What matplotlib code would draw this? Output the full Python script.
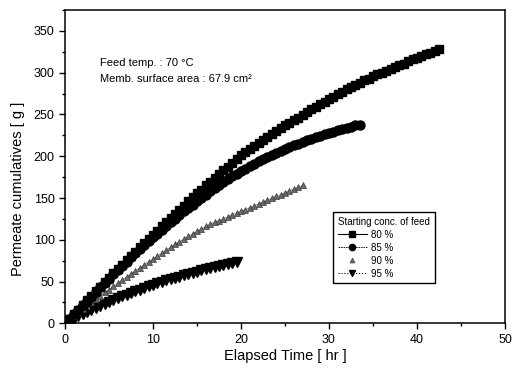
import numpy as np
import matplotlib
matplotlib.use('Agg')
import matplotlib.pyplot as plt
from matplotlib.ticker import MultipleLocator
from matplotlib.lines import Line2D

plt.rcParams['font.family'] = ['Liberation Sans', 'DejaVu Sans']

# ---- data ----
t80 = np.arange(0, 42.51, 0.5)
y80 = [0, 5.5, 11, 16.5, 22, 27.5, 33, 38.5, 44, 49, 54.5, 60, 65, 70, 75.5, 81, 86,
       91, 96, 101, 106, 111, 116, 121, 126, 131, 136, 141, 146, 151, 155.5, 160, 165,
       169.5, 174, 178.5, 183, 187.5, 192, 196.5, 201, 205, 209, 212.5, 216,
       219.5, 223, 226.5, 230, 233.5, 237, 240, 243, 246, 249.5, 253, 256,
       259, 262, 265, 268, 271, 274, 277, 280, 283, 285.5, 288, 291,
       293, 295.5, 298, 300, 302, 304.5, 307, 309, 311, 313.5, 316, 318,
       320, 322, 324, 326, 328]

t85 = np.arange(0, 33.51, 0.5)
y85 = [0, 5.5, 11, 16.5, 22, 27, 32, 37.5, 43, 48, 53.5, 59, 64, 69, 74, 79, 84,
       89, 93.5, 98, 103, 107.5, 112, 116.5, 121, 125, 129.5, 134, 138,
       142, 146, 150, 154, 158, 161.5, 165.5, 169, 172.5, 176, 179, 182,
       185, 188, 191, 194, 196.5, 199, 201.5, 204, 206.5, 209, 211, 213,
       215, 217, 219, 221, 223, 224.5, 226.5, 228, 229.5, 231, 232.5, 234,
       235.5, 237, 238]

t90 = np.arange(0, 27.01, 0.5)
y90 = [0, 4.5, 9, 13, 17, 21, 25, 29, 33, 37, 40.5, 44.5, 48, 52, 55.5, 59.5, 63,
       66.5, 70, 73.5, 77, 80.5, 84, 87.5, 91, 94.5, 97.5, 101, 104,
       107, 110, 113, 116, 118.5, 121, 123, 125, 127.5, 130, 132, 134,
       136, 138.5, 140.5, 143, 145, 147.5, 149.5, 152, 154, 156.5, 158.5, 161,
       163, 165]

t95 = np.arange(0, 19.51, 0.5)
y95 = [0, 3, 5.5, 8.5, 11, 13.5, 16, 18.5, 21, 23.5, 26, 28.5, 30.5,
       32.5, 34.5, 36.5, 38.5, 40.5, 42.5, 44.5, 46, 48, 49.5, 51.5, 53,
       54.5, 56, 57.5, 59, 60.5, 62, 63.5, 65, 66, 67.5, 69, 70,
       71, 72.5, 74]

labels = ['80 %', '85 %', '90 %', '95 %']
legend_title = 'Starting conc. of feed'
note1 = 'Feed temp. : 70 \u00b0C'
note2 = 'Memb. surface area : 67.9 cm\u00b2'

fig = plt.figure(figsize=(5.13, 3.76), dpi=100)
ax = fig.add_axes([0.1267, 0.140, 0.8577, 0.8333])

h95, = ax.plot(t95, y95, color='black', marker='v', ms=6.5, ls=':', lw=0.8, label=labels[3])
h90, = ax.plot(t90, y90, color='#6a6a6a', marker='^', ms=3.8, mec='#3a3a3a', mew=0.5,
               ls='-', lw=0.5, label=labels[2])
h85, = ax.plot(t85, y85, color='black', marker='o', ms=6.5, ls=(0, (2, 1)), lw=0.6, label=labels[1])
h80, = ax.plot(t80, y80, color='black', marker='s', ms=6.3, ls='-', lw=0.8, label=labels[0])

ax.set_xlim(0, 50)
ax.set_ylim(0, 375)
ax.xaxis.set_major_locator(MultipleLocator(10))
ax.xaxis.set_minor_locator(MultipleLocator(5))
ax.yaxis.set_major_locator(MultipleLocator(50))
ax.yaxis.set_minor_locator(MultipleLocator(25))
ax.tick_params(which='both', direction='out', top=False, right=False, width=1)
ax.tick_params(which='major', length=4, labelsize=9)
ax.tick_params(which='minor', length=2.5)
for s in ax.spines.values():
    s.set_linewidth(1.1)

ax.set_xlabel('Elapsed Time [ hr ]', fontsize=10.5)
ax.set_ylabel('Permeate cumulatives [ g ]', fontsize=10.5)
ax.xaxis.label.set_va('center')
ax.xaxis.set_label_coords(0.5, -0.105)
ax.yaxis.label.set_va('center')
ax.yaxis.set_label_coords(-0.107, 0.43)

ax.text(4.0, 312, note1, fontsize=8, va='center', ha='left')
ax.text(4.0, 293, note2, fontsize=8, va='center', ha='left')

# legend key markers (smaller, as in the reference key)
lh80 = Line2D([], [], color='black', marker='s', ms=4.5, ls='-', lw=0.8)
lh85 = Line2D([], [], color='black', marker='o', ms=4.5, ls=(0, (2, 1)), lw=0.6)
lh90 = Line2D([], [], color='#6a6a6a', marker='^', ms=3.5, mec='#3a3a3a', mew=0.5, ls='none')
lh95 = Line2D([], [], color='black', marker='v', ms=5, ls=':', lw=0.8)

leg = ax.legend(handles=[lh80, lh85, lh90, lh95], labels=labels, title=legend_title,
                loc='upper left', bbox_to_anchor=(333 / 513, 1 - 212 / 376),
                bbox_transform=fig.transFigure, borderaxespad=0,
                fontsize=7, title_fontsize=7,
                frameon=True, fancybox=False, edgecolor='black', framealpha=1,
                handlelength=3.0, handletextpad=0.45, labelspacing=0.3,
                borderpad=0.5)
leg.get_frame().set_linewidth(1.0)
leg._legend_box.align = 'left'

fig.savefig('out.png', dpi=100)
